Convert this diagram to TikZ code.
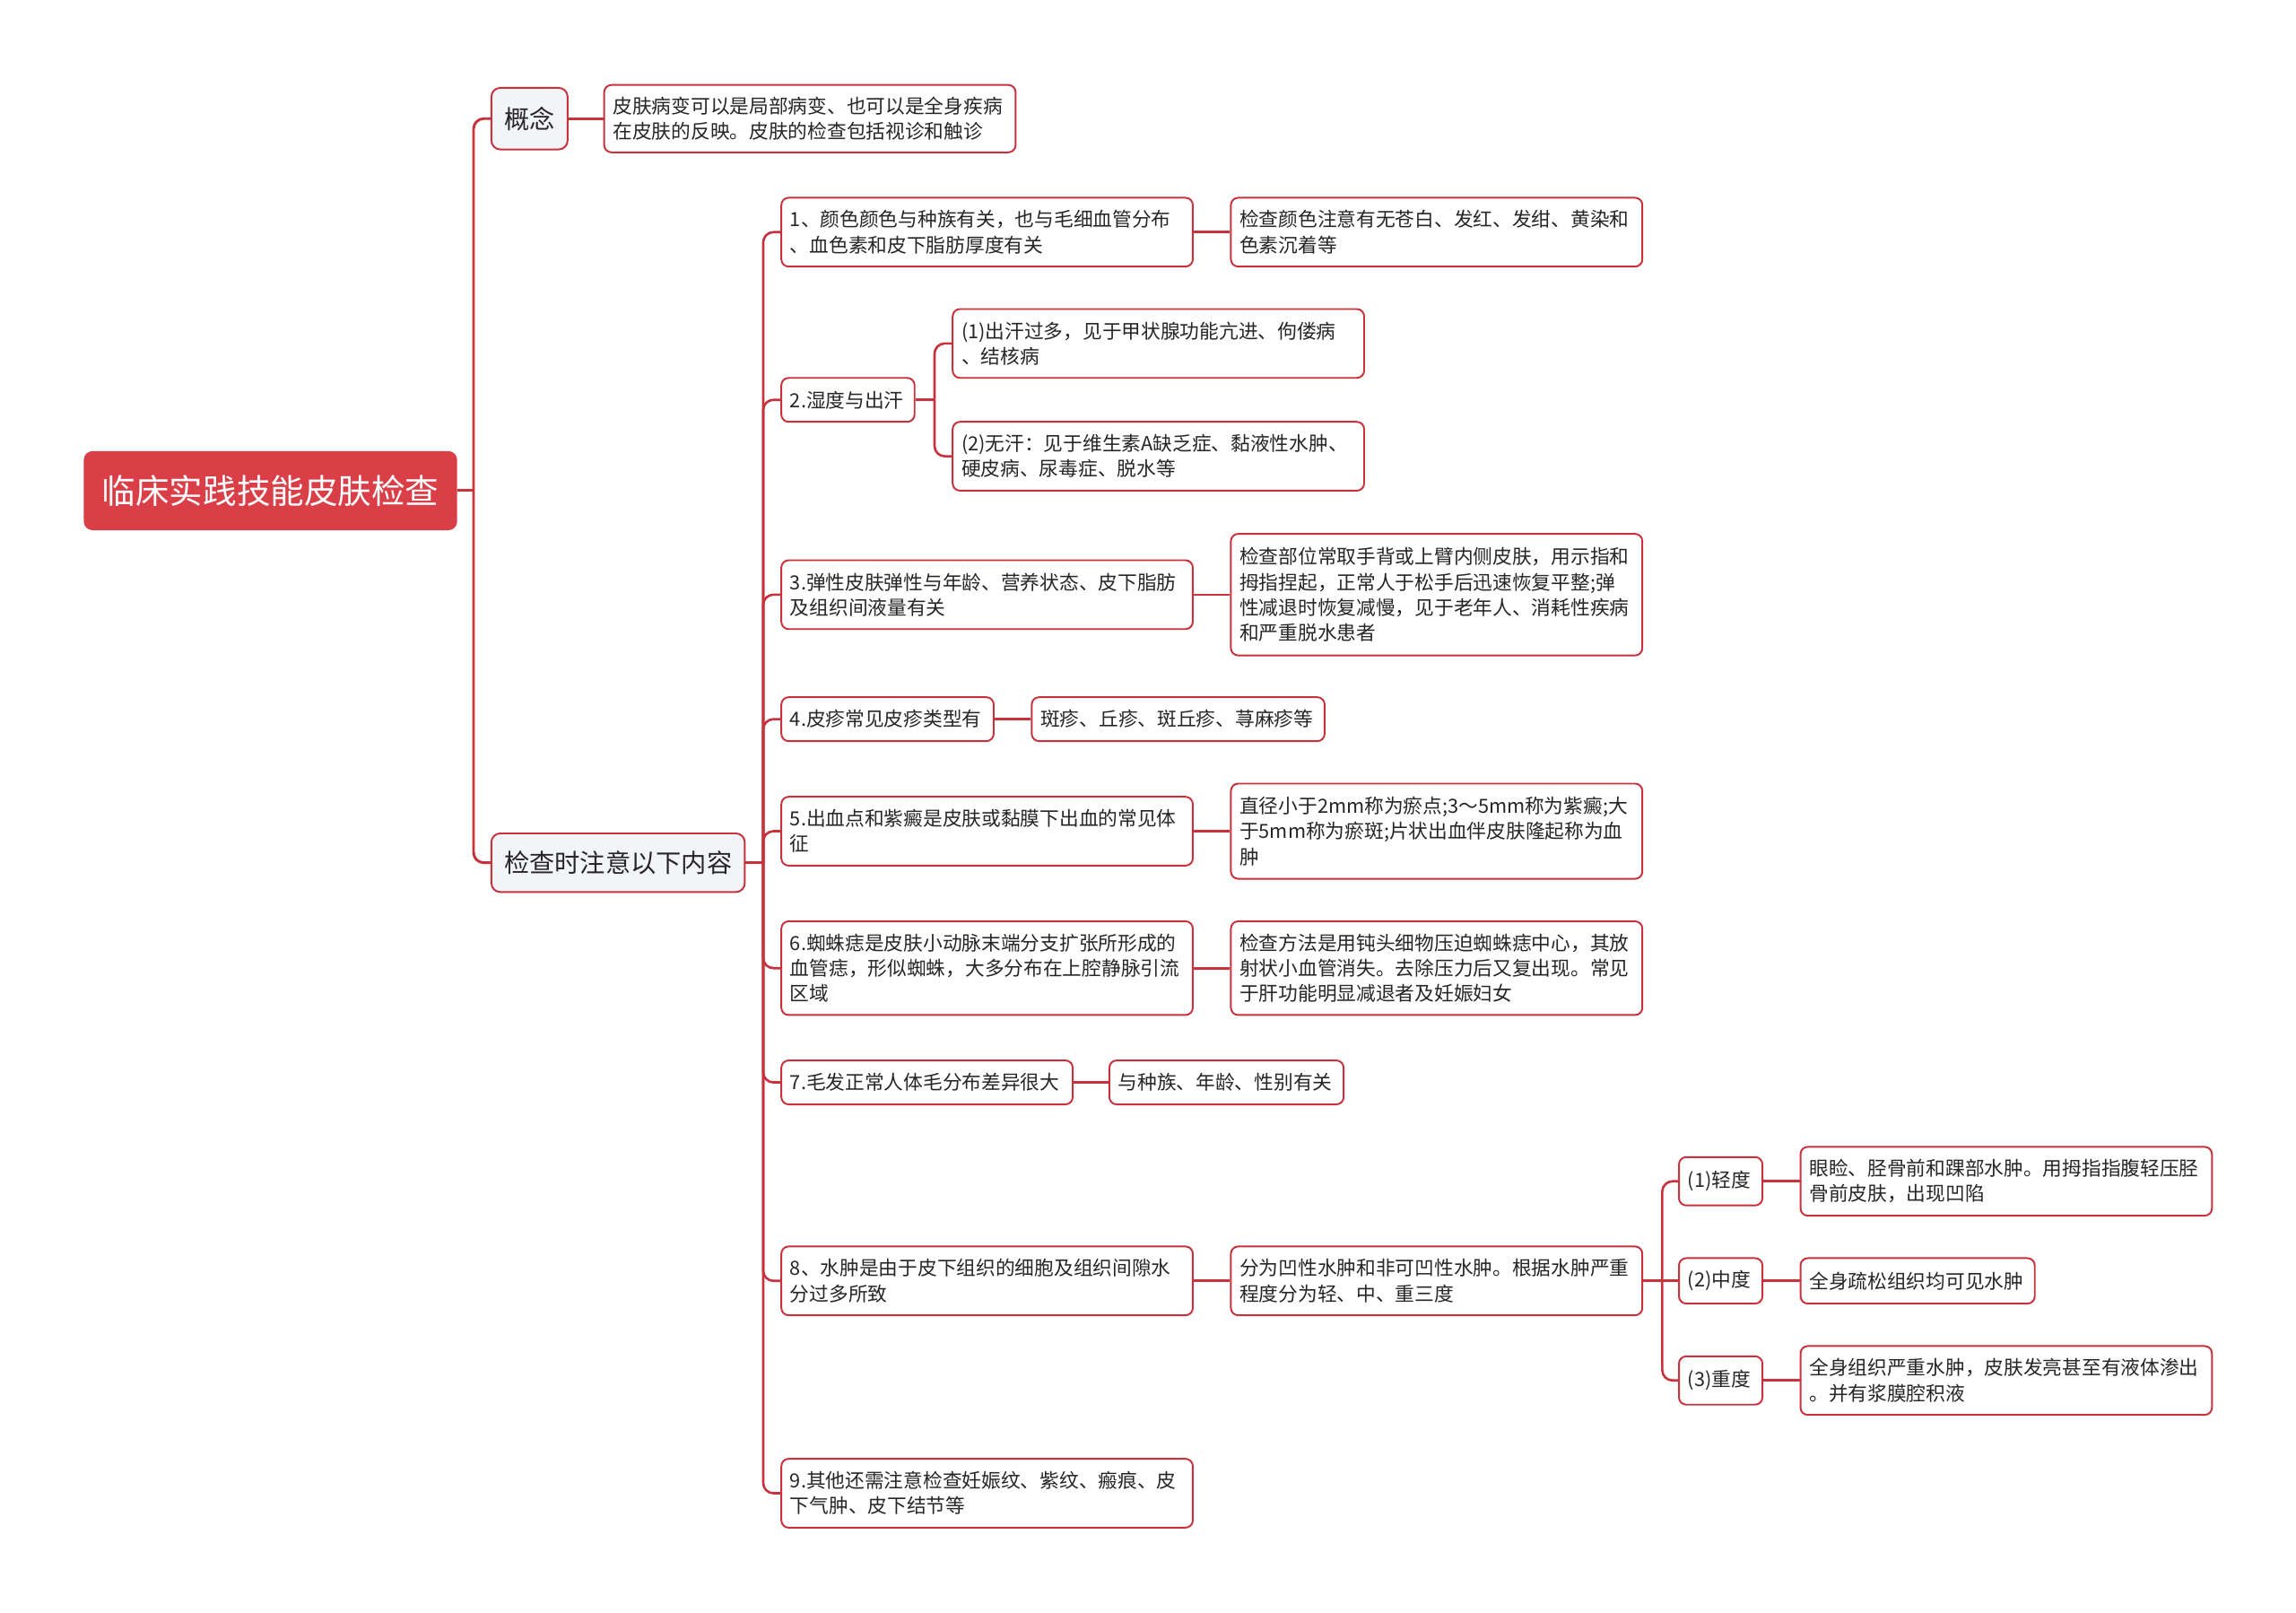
\documentclass[tikz,border=0pt]{standalone}
\usepackage{fontspec}
\setmainfont{Noto Sans CJK SC}
\definecolor{linec}{HTML}{C8323C}
\definecolor{rootc}{HTML}{DA3F48}
\definecolor{lvlone}{HTML}{F2F4F7}
\definecolor{textc}{HTML}{262626}
\tikzset{
  box/.style={draw=linec, line width=1.2pt, rounded corners=5pt, fill=white, anchor=west,
    align=left, inner xsep=6pt, inner ysep=0pt, text=textc,
    font=\fontsize{13.3}{17.3}\selectfont},
  rootbox/.style={fill=rootc, draw=none, rounded corners=6pt, anchor=west, align=center,
    inner xsep=0pt, inner ysep=0pt, text=white, font=\fontsize{23}{28}\selectfont},
  onebox/.style={draw=linec, line width=1.2pt, rounded corners=6pt, fill=lvlone, anchor=west,
    align=center, inner xsep=0pt, inner ysep=0pt, text=textc, font=\fontsize{17.3}{21}\selectfont},
  conn/.style={draw=linec, line width=1.6pt},
}
\newcommand\mmconn[4][1.6pt]{%
  \draw[conn, line width=#1] (#2.east) -- ++(#4,0) coordinate (tmpc);
  \draw[conn, line width=#1, rounded corners=7pt] (tmpc) |- (#3.west);}
\newcommand\mmline[2]{%
  \draw[conn] (#1.east) -- (#1.east -| #2.west);}
\begin{document}
\begin{tikzpicture}[x=1pt,y=-1pt]
\useasboundingbox (0,0) rectangle (1568,1101);
\fill[white] (0,0) rectangle (1568,1101);

% root and level 1
\node[rootbox, minimum width=255pt, minimum height=54pt] (root) at (57,335) {临床实践技能皮肤检查};
\node[onebox, minimum width=52pt, minimum height=42pt] (gn) at (335,81) {概念};
\node[onebox, minimum width=173pt, minimum height=40pt] (jc) at (335,589) {检查时注意以下内容};

% concept child
\node[box, text width=269pt, minimum height=46pt] (gnd) at (412,81) {皮肤病变可以是局部病变、也可以是全身疾病\\在皮肤的反映。皮肤的检查包括视诊和触诊};

% level 2
\node[box, text width=269pt, minimum height=47pt] (n1) at (533,158.5) {1、颜色颜色与种族有关，也与毛细血管分布\\、血色素和皮下脂肪厚度有关};
\node[box, text width=269pt, minimum height=47pt] (n1a) at (840,158.5) {检查颜色注意有无苍白、发红、发绀、黄染和\\色素沉着等};

\node[box, text width=79pt, minimum height=30pt] (n2) at (533,273) {2.湿度与出汗};
\node[box, text width=269pt, minimum height=47pt] (n2a) at (650,234.5) {(1)出汗过多，见于甲状腺功能亢进、佝偻病\\、结核病};
\node[box, text width=269pt, minimum height=47pt] (n2b) at (650,311.5) {(2)无汗：见于维生素A缺乏症、黏液性水肿、\\硬皮病、尿毒症、脱水等};

\node[box, text width=269pt, minimum height=47pt] (n3) at (533,406) {3.弹性皮肤弹性与年龄、营养状态、皮下脂肪\\及组织间液量有关};
\node[box, text width=269pt, minimum height=83pt] (n3a) at (840,406) {检查部位常取手背或上臂内侧皮肤，用示指和\\拇指捏起，正常人于松手后迅速恢复平整;弹\\性减退时恢复减慢，见于老年人、消耗性疾病\\和严重脱水患者};

\node[box, text width=133pt, minimum height=30pt] (n4) at (533,491) {4.皮疹常见皮疹类型有};
\node[box, text width=188pt, minimum height=30pt] (n4a) at (704,491) {斑疹、丘疹、斑丘疹、荨麻疹等};

\node[box, text width=269pt, minimum height=47pt] (n5) at (533,567.5) {5.出血点和紫癜是皮肤或黏膜下出血的常见体\\征};
\node[box, text width=269pt, minimum height=65pt] (n5a) at (840,567.5) {直径小于2mm称为瘀点;3～5mm称为紫癜;大\\于5mm称为瘀斑;片状出血伴皮肤隆起称为血\\肿};

\node[box, text width=269pt, minimum height=64pt] (n6) at (533,661) {6.蜘蛛痣是皮肤小动脉末端分支扩张所形成的\\血管痣，形似蜘蛛，大多分布在上腔静脉引流\\区域};
\node[box, text width=269pt, minimum height=64pt] (n6a) at (840,661) {检查方法是用钝头细物压迫蜘蛛痣中心，其放\\射状小血管消失。去除压力后又复出现。常见\\于肝功能明显减退者及妊娠妇女};

\node[box, text width=187pt, minimum height=30pt] (n7) at (533,739) {7.毛发正常人体毛分布差异很大};
\node[box, text width=148pt, minimum height=30pt] (n7a) at (757,739) {与种族、年龄、性别有关};

\node[box, text width=269pt, minimum height=47pt] (n8) at (533,874.5) {8、水肿是由于皮下组织的细胞及组织间隙水\\分过多所致};
\node[box, text width=269pt, minimum height=47pt] (n8a) at (840,874.5) {分为凹性水肿和非可凹性水肿。根据水肿严重\\程度分为轻、中、重三度};

\node[box, text width=45pt, minimum height=33pt] (g1) at (1146,806.5) {(1)轻度};
\node[box, text width=269pt, minimum height=47pt] (g1a) at (1229,806.5) {眼睑、胫骨前和踝部水肿。用拇指指腹轻压胫\\骨前皮肤，出现凹陷};
\node[box, text width=45pt, minimum height=31pt] (g2) at (1146,874.5) {(2)中度};
\node[box, text width=148pt, minimum height=31pt] (g2a) at (1229,874.5) {全身疏松组织均可见水肿};
\node[box, text width=45pt, minimum height=33pt] (g3) at (1146,942.5) {(3)重度};
\node[box, text width=269pt, minimum height=47pt] (g3a) at (1229,942.5) {全身组织严重水肿，皮肤发亮甚至有液体渗出\\。并有浆膜腔积液};

\node[box, text width=269pt, minimum height=47pt] (n9) at (533,1019.5) {9.其他还需注意检查妊娠纹、紫纹、瘢痕、皮\\下气肿、皮下结节等};

% connectors
\mmconn[1.8pt]{root}{gn}{11}
\mmconn[1.8pt]{root}{jc}{11}
\mmline{gn}{gnd}
\foreach \c in {n1,n2,n3,n4,n5,n6,n7,n8,n9} {\mmconn{jc}{\c}{12}}
\mmline{n1}{n1a}
\mmconn{n2}{n2a}{13}
\mmconn{n2}{n2b}{13}
\mmline{n3}{n3a}
\mmline{n4}{n4a}
\mmline{n5}{n5a}
\mmline{n6}{n6a}
\mmline{n7}{n7a}
\mmline{n8}{n8a}
\mmconn{n8a}{g1}{13}
\mmline{n8a}{g2}
\mmconn{n8a}{g3}{13}
\mmline{g1}{g1a}
\mmline{g2}{g2a}
\mmline{g3}{g3a}
\end{tikzpicture}
\end{document}
